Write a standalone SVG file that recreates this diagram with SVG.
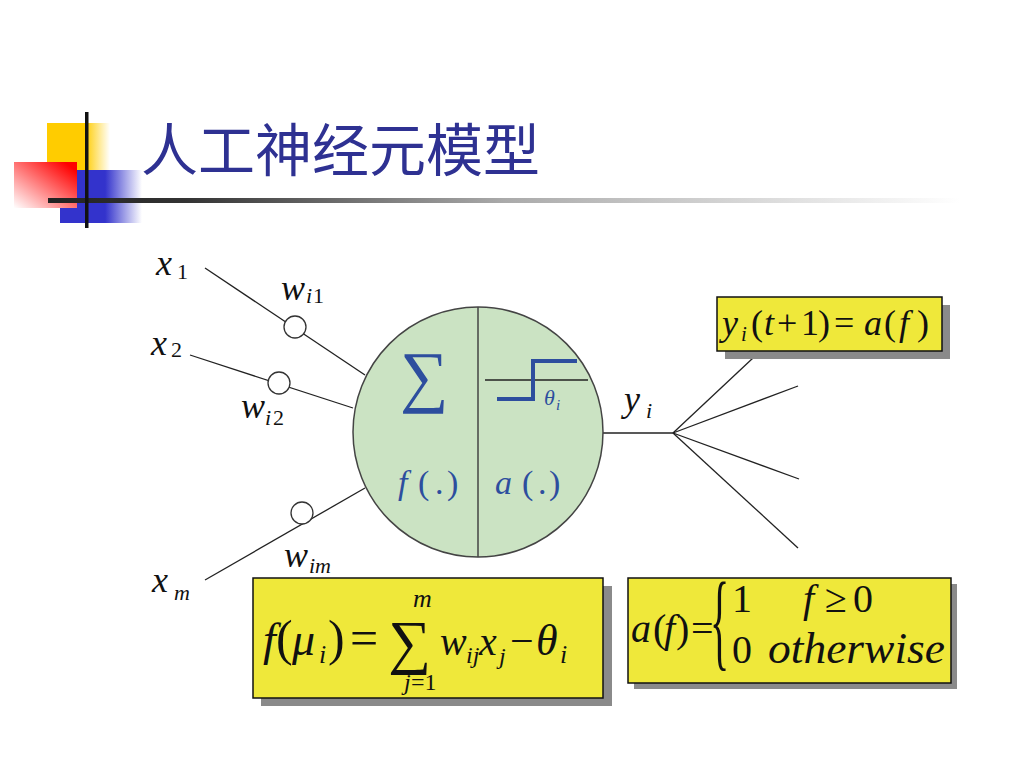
<svg xmlns="http://www.w3.org/2000/svg" width="1024" height="768" viewBox="0 0 1024 768">
<defs>
<linearGradient id="gYellow" x1="0" y1="0" x2="1" y2="0">
<stop offset="0" stop-color="#FFCC00"/><stop offset="0.6" stop-color="#FFCC00"/><stop offset="1" stop-color="#FFFFFF"/>
</linearGradient>
<linearGradient id="gBlue" x1="0" y1="0" x2="1" y2="0">
<stop offset="0" stop-color="#3333CC"/><stop offset="0.55" stop-color="#3333CC"/><stop offset="1" stop-color="#FFFFFF"/>
</linearGradient>
<linearGradient id="gRed" x1="0" y1="1" x2="1" y2="0">
<stop offset="0" stop-color="#FFFFFF"/><stop offset="0.9" stop-color="#FF0000"/><stop offset="1" stop-color="#FF0000"/>
</linearGradient>
<linearGradient id="gLine" x1="0" y1="0" x2="1" y2="0">
<stop offset="0" stop-color="#222222"/><stop offset="0.15" stop-color="#333333"/><stop offset="0.5" stop-color="#AAAAAA"/><stop offset="1" stop-color="#FFFFFF"/>
</linearGradient>
</defs>
<rect width="1024" height="768" fill="#FFFFFF"/>
<g id="title-deco">
<rect x="47" y="123" width="63" height="52" fill="url(#gYellow)"/>
<rect x="60" y="170" width="82" height="53" fill="url(#gBlue)"/>
<rect x="14" y="162" width="63" height="46" fill="url(#gRed)"/>
<rect x="48" y="198" width="912" height="5" fill="url(#gLine)"/>
<rect x="85" y="112" width="3.5" height="116" fill="#111"/>
</g>
<text id="title" x="141" y="171" font-family="Noto Sans CJK SC" font-size="57" fill="#2E3192">人工神经元模型</text>
<g id="connectors" stroke="#222" stroke-width="1.3" fill="none">
<line x1="205" y1="268" x2="365" y2="375"/>
<line x1="190" y1="355" x2="353" y2="408"/>
<line x1="205" y1="580" x2="365" y2="488"/>
<line x1="603" y1="433" x2="673" y2="433"/>
<line x1="673" y1="433" x2="753" y2="358"/>
<line x1="673" y1="433" x2="798" y2="386"/>
<line x1="673" y1="433" x2="799" y2="479"/>
<line x1="673" y1="433" x2="798" y2="548"/>
</g>
<g id="weights" fill="#FFFFFF" stroke="#333" stroke-width="1.3">
<circle cx="295" cy="327" r="11"/>
<circle cx="279" cy="383" r="11"/>
<circle cx="302" cy="513" r="11"/>
</g>
<g id="neuron">
<circle cx="478" cy="432" r="125" fill="#CBE3C3" stroke="#444" stroke-width="1.5"/>
<line x1="478" y1="307" x2="478" y2="557" stroke="#444" stroke-width="1.5"/>
<text x="400" y="399" font-family="Liberation Serif" font-size="68" fill="#2D4E9E">∑</text>
<line x1="485" y1="380" x2="588" y2="380" stroke="#222" stroke-width="1.3"/>
<polyline points="497,399 533,399 533,361 577,361" fill="none" stroke="#2D4E9E" stroke-width="4"/>
<text x="544" y="405" font-family="Liberation Serif" font-style="italic" font-size="22" fill="#2D4E9E">θ</text>
<text x="556" y="410" font-family="Liberation Serif" font-style="italic" font-size="15" fill="#2D4E9E">i</text>
<text x="398" y="494" font-family="Liberation Serif" font-style="italic" font-size="34" fill="#2D4E9E">f</text>
<text x="418" y="494" font-family="Liberation Serif" font-size="34" fill="#2D4E9E">(</text>
<text x="435" y="494" font-family="Liberation Serif" font-size="34" fill="#2D4E9E">.</text>
<text x="447" y="494" font-family="Liberation Serif" font-size="34" fill="#2D4E9E">)</text>
<text x="495" y="494" font-family="Liberation Serif" font-style="italic" font-size="34" fill="#2D4E9E">a</text>
<text x="522" y="494" font-family="Liberation Serif" font-size="34" fill="#2D4E9E">(</text>
<text x="538" y="494" font-family="Liberation Serif" font-size="34" fill="#2D4E9E">.</text>
<text x="549" y="494" font-family="Liberation Serif" font-size="34" fill="#2D4E9E">)</text>
</g>
<g id="input-labels" fill="#111">
<text x="156" y="275" font-family="Liberation Serif" font-style="italic" font-size="36">x</text>
<text x="177" y="279" font-family="Liberation Serif" font-size="22">1</text>
<text x="281" y="300" font-family="Liberation Serif" font-style="italic" font-size="36">w</text>
<text x="306" y="303" font-family="Liberation Serif" font-style="italic" font-size="22">i</text>
<text x="313" y="303" font-family="Liberation Serif" font-size="22">1</text>
<text x="151" y="355" font-family="Liberation Serif" font-style="italic" font-size="36">x</text>
<text x="171" y="357" font-family="Liberation Serif" font-size="22">2</text>
<text x="241" y="418" font-family="Liberation Serif" font-style="italic" font-size="36">w</text>
<text x="265" y="425" font-family="Liberation Serif" font-style="italic" font-size="22">i</text>
<text x="273" y="425" font-family="Liberation Serif" font-size="22">2</text>
<text x="284" y="567" font-family="Liberation Serif" font-style="italic" font-size="36">w</text>
<text x="309" y="573" font-family="Liberation Serif" font-style="italic" font-size="22">im</text>
<text x="152" y="592" font-family="Liberation Serif" font-style="italic" font-size="36">x</text>
<text x="174" y="600" font-family="Liberation Serif" font-style="italic" font-size="22">m</text>
<text x="624" y="411" font-family="Liberation Serif" font-style="italic" font-size="36">y</text>
<text x="646" y="418" font-family="Liberation Serif" font-style="italic" font-size="22">i</text>
</g>
<g id="box-output" fill="#111">
<rect x="725" y="305" width="225" height="54" fill="#8A8A8A"/>
<rect x="717" y="297" width="225" height="54" fill="#EFE83A" stroke="#111" stroke-width="1.5"/>
<text x="722" y="335" font-family="Liberation Serif" font-style="italic" font-size="36">y</text>
<text x="741" y="341" font-family="Liberation Serif" font-style="italic" font-size="21">i</text>
<text x="751" y="335" font-family="Liberation Serif" font-size="36">(</text>
<text x="764" y="335" font-family="Liberation Serif" font-style="italic" font-size="36">t</text>
<text x="777" y="335" font-family="Liberation Serif" font-size="36">+</text>
<text x="801" y="335" font-family="Liberation Serif" font-size="36">1</text>
<text x="818" y="335" font-family="Liberation Serif" font-size="36">)</text>
<text x="834" y="335" font-family="Liberation Serif" font-size="36">=</text>
<text x="864" y="335" font-family="Liberation Serif" font-style="italic" font-size="36">a</text>
<text x="884" y="335" font-family="Liberation Serif" font-size="36">(</text>
<text x="899" y="335" font-family="Liberation Serif" font-style="italic" font-size="36">f</text>
<text x="917" y="335" font-family="Liberation Serif" font-size="36">)</text>
</g>
<g id="box-sum" fill="#111">
<rect x="261" y="586" width="351" height="120" fill="#8A8A8A"/>
<rect x="253" y="578" width="350" height="120" fill="#EFE83A" stroke="#111" stroke-width="1.5"/>
<text x="263" y="655" font-family="Liberation Serif" font-style="italic" font-size="46">f</text>
<text x="276" y="655" font-family="Liberation Serif" font-size="50">(</text>
<text x="292" y="655" font-family="Liberation Serif" font-style="italic" font-size="46">μ</text>
<text x="319" y="663" font-family="Liberation Serif" font-style="italic" font-size="26">i</text>
<text x="328" y="655" font-family="Liberation Serif" font-size="50">)</text>
<text x="350" y="655" font-family="Liberation Serif" font-size="50">=</text>
<text x="388" y="662" font-family="Liberation Serif" font-size="60">∑</text>
<text x="413" y="607" font-family="Liberation Serif" font-style="italic" font-size="26">m</text>
<text x="404" y="690" font-family="Liberation Serif" font-style="italic" font-size="24">j</text>
<text x="411" y="690" font-family="Liberation Serif" font-size="24">=1</text>
<text x="440" y="655" font-family="Liberation Serif" font-style="italic" font-size="40">w</text>
<text x="466" y="663" font-family="Liberation Serif" font-style="italic" font-size="24">ij</text>
<text x="479" y="655" font-family="Liberation Serif" font-style="italic" font-size="40">x</text>
<text x="499" y="664" font-family="Liberation Serif" font-style="italic" font-size="24">j</text>
<text x="510" y="655" font-family="Liberation Serif" font-size="42">−</text>
<text x="536" y="655" font-family="Liberation Serif" font-style="italic" font-size="44">θ</text>
<text x="560" y="663" font-family="Liberation Serif" font-style="italic" font-size="26">i</text>
</g>
<g id="box-act" fill="#111">
<rect x="634" y="584" width="323" height="105" fill="#8A8A8A"/>
<rect x="628" y="578" width="323" height="105" fill="#EFE83A" stroke="#111" stroke-width="1.5"/>
<text x="631" y="642" font-family="Liberation Serif" font-style="italic" font-size="40">a</text>
<text x="653" y="642" font-family="Liberation Serif" font-size="40">(</text>
<text x="664" y="642" font-family="Liberation Serif" font-style="italic" font-size="40">f</text>
<text x="676" y="642" font-family="Liberation Serif" font-size="40">)</text>
<text x="691" y="642" font-family="Liberation Serif" font-size="40">=</text>
<text transform="translate(710,657) scale(1,2.7)" font-family="Liberation Serif" font-size="40">{</text>
<text x="732" y="612" font-family="Liberation Serif" font-size="40">1</text>
<text x="803" y="612" font-family="Liberation Serif" font-style="italic" font-size="40">f</text>
<text x="825" y="612" font-family="Liberation Serif" font-size="40">≥</text>
<text x="853" y="612" font-family="Liberation Serif" font-size="40">0</text>
<text x="732" y="663" font-family="Liberation Serif" font-size="40">0</text>
<text x="768" y="663" font-family="Liberation Serif" font-style="italic" font-size="44" textLength="177" lengthAdjust="spacingAndGlyphs">otherwise</text>
</g>
</svg>
